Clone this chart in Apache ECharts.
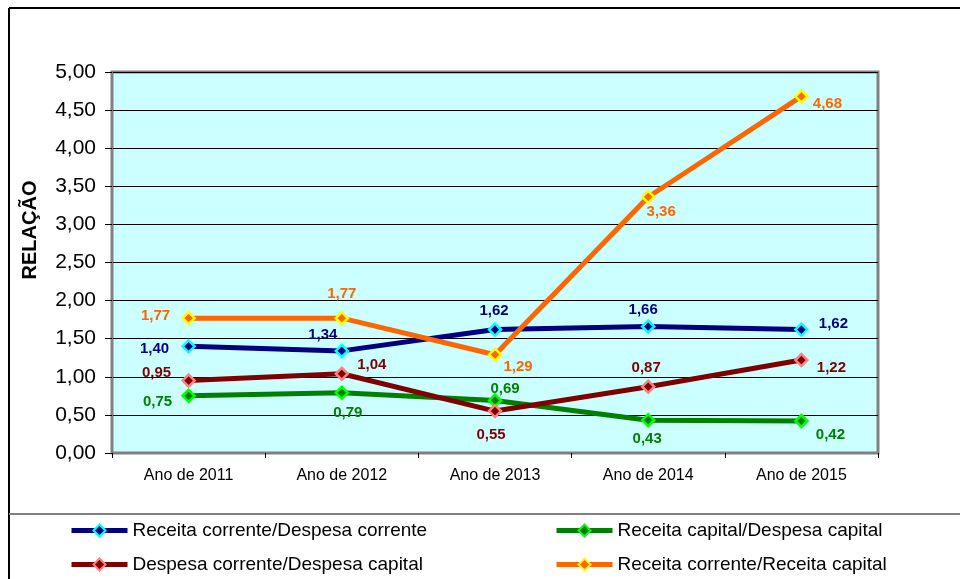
<!DOCTYPE html>
<html>
<head>
    <meta charset="utf-8">
    <script src="https://cdn.jsdelivr.net/npm/echarts@6/dist/echarts.min.js"></script>
    <style>
        html, body { margin: 0; padding: 0; background: #ffffff; }
        #chart { width: 960px; height: 579px; }
    </style>
</head>
<body>
<div id="chart"></div>
<script>
    // dados
    var anos = ['Ano de 2011', 'Ano de 2012', 'Ano de 2013', 'Ano de 2014', 'Ano de 2015'];
    var recCorDespCor = [1.40, 1.34, 1.62, 1.66, 1.62];
    var recCapDespCap = [0.75, 0.79, 0.69, 0.43, 0.42];
    var despCorDespCap = [0.95, 1.04, 0.55, 0.87, 1.22];
    var recCorRecCap = [1.77, 1.77, 1.29, 3.36, 4.68];

    // deslocamento dos rótulos (px) em relação ao ponto
    var offBlue = [[-34, 3], [-19, -16], [-1, -19], [-5, -17], [32, -6]];
    var offGreen = [[-31, 6], [6, 20], [10, -12], [-1, 19], [29, 14]];
    var offRed = [[-32, -8], [30, -9], [-4, 24], [-2, -19], [30, 8]];
    var offOrange = [[-33, -2], [0, -24], [23, 12], [13, 15], [26, 7]];

    function fmt(v) {
        return v.toFixed(2).replace('.', ',');
    }

    function buildData(values, offsets) {
        return values.map(function (v, i) {
            return { value: v, label: { offset: offsets[i] } };
        });
    }

    function makeSeries(name, values, offsets, lineColor, borderColor, labelColor) {
        return {
            name: name,
            type: 'line',
            data: buildData(values, offsets),
            symbol: 'diamond',
            symbolSize: 12,
            lineStyle: { color: lineColor, width: 5 },
            itemStyle: { color: lineColor, borderColor: borderColor, borderWidth: 2.5 },
            label: {
                show: true,
                position: 'inside',
                color: labelColor,
                fontFamily: 'Liberation Sans',
                fontWeight: 'bold',
                fontSize: 15,
                formatter: function (p) { return fmt(p.value); }
            },
            emphasis: { disabled: true },
            animation: false
        };
    }

    function legendAt(name, left, top) {
        return {
            data: [name],
            left: left,
            top: top,
            padding: 0,
            itemWidth: 56,
            itemHeight: 15,
            lineStyle: { width: 5 },
            textStyle: { fontFamily: 'Liberation Sans', fontSize: 19, color: '#000' }
        };
    }

    var chart = echarts.init(document.getElementById('chart'));
    var option = {
        backgroundColor: '#ffffff',
        animation: false,
        legend: [
            legendAt('Receita corrente/Despesa corrente', 69, 521),
            legendAt('Receita capital/Despesa capital', 554, 521),
            legendAt('Despesa corrente/Despesa capital', 69, 555),
            legendAt('Receita corrente/Receita capital', 554, 555)
        ],
        grid: {
            left: 112,
            right: 82,
            top: 72,
            bottom: 126,
            show: true,
            backgroundColor: '#CCFFFF',
            borderColor: '#808080',
            borderWidth: 3
        },
        xAxis: {
            type: 'category',
            data: anos,
            boundaryGap: true,
            axisLine: { lineStyle: { color: '#808080', width: 2 } },
            axisTick: { show: true, length: 5, lineStyle: { color: '#000' } },
            axisLabel: { fontFamily: 'Liberation Sans', fontSize: 16, color: '#000', margin: 15 }
        },
        yAxis: {
            type: 'value',
            min: 0,
            max: 5,
            interval: 0.5,
            axisLine: { show: true, lineStyle: { color: '#808080', width: 2 } },
            axisTick: { show: true, length: 7, lineStyle: { color: '#000' } },
            axisLabel: {
                fontFamily: 'Liberation Sans', fontSize: 21, color: '#000', margin: 16,
                formatter: function (v) { return fmt(v); }
            },
            splitLine: { lineStyle: { color: '#000', width: 1 } }
        },
        graphic: [
            { type: 'line', shape: { x1: 9, y1: 8, x2: 960, y2: 8 }, style: { stroke: '#000', lineWidth: 2 } },
            { type: 'line', shape: { x1: 9, y1: 8, x2: 9, y2: 579 }, style: { stroke: '#000', lineWidth: 2 } },
            { type: 'line', shape: { x1: 9, y1: 514, x2: 960, y2: 514 }, style: { stroke: '#808080', lineWidth: 2 } },
            {
                type: 'text', x: 30, y: 230, rotation: Math.PI / 2,
                style: {
                    text: 'RELAÇÃO', fontFamily: 'Liberation Sans', fontWeight: 'bold', fontSize: 20,
                    fill: '#000', align: 'center', verticalAlign: 'middle'
                }
            }
        ],
        series: [
            makeSeries('Receita corrente/Despesa corrente', recCorDespCor, offBlue, '#000080', '#00FFFF', '#000080'),
            makeSeries('Receita capital/Despesa capital', recCapDespCap, offGreen, '#008000', '#00FF00', '#008000'),
            makeSeries('Despesa corrente/Despesa capital', despCorDespCap, offRed, '#800000', '#FF8080', '#800000'),
            makeSeries('Receita corrente/Receita capital', recCorRecCap, offOrange, '#FF6600', '#FFFF00', '#FF6600')
        ]
    };
    chart.setOption(option);
</script>
</body>
</html>
